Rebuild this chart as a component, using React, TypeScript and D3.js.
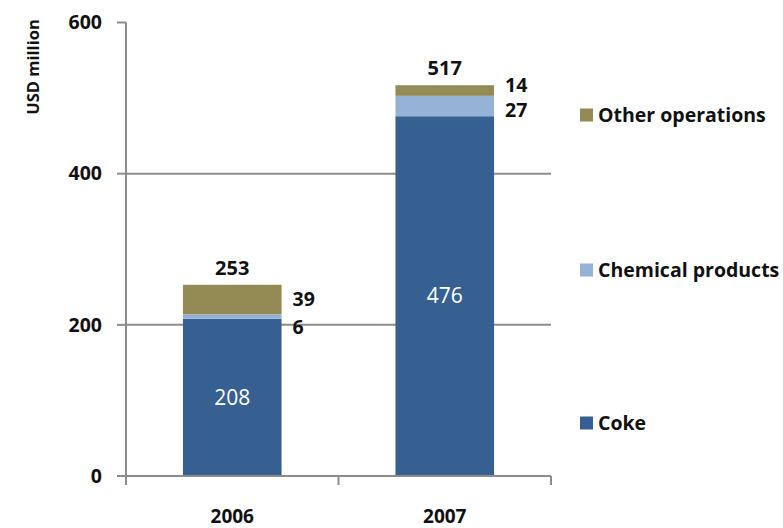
import React from "react";
import * as d3 from "d3";

const categories = ["2006", "2007"];
const seriesNames = ["Coke", "Chemical products", "Other operations"];
const cokeValues = [208, 476];
const chemicalValues = [6, 27];
const otherValues = [39, 14];
const totals = [253, 517];
const yTicks = [0, 200, 400, 600];
const colors = ["#376092", "#95B3D7", "#948A54"];

const W = 783;
const H = 528;
const FONT = "'Open Sans', 'Liberation Sans', sans-serif";

export default function App() {
  const x = d3.scaleBand<string>().domain(categories).range([126, 551]).paddingInner(0.536).paddingOuter(0.268);
  const y = d3.scaleLinear().domain([0, 600]).range([476, 22.5]);
  const seriesValues = [cokeValues, chemicalValues, otherValues];
  const table = categories.map((c, i) => {
    const o: any = { cat: c };
    seriesNames.forEach((s, j) => (o[s] = seriesValues[j][i]));
    return o;
  });
  const stacked = d3.stack<any>().keys(seriesNames)(table);
  const bw = x.bandwidth();
  const grid = "#8c8c8c";

  return (
    <svg width={W} height={H} style={{ position: "absolute", left: 0, top: 0 }} fontFamily={FONT}>
      <rect width={W} height={H} fill="#fff" />
      {/* gridlines */}
      {yTicks.filter((t) => t > 0 && t < 600).map((t) => (
        <line key={t} x1={126} x2={551} y1={y(t)} y2={y(t)} stroke={grid} strokeWidth={2} />
      ))}
      {/* bars */}
      {stacked.map((layer, j) =>
        layer.map((d, i) => (
          <rect key={`${j}-${i}`} x={x(categories[i])} width={bw} y={y(d[1])} height={y(d[0]) - y(d[1])} fill={colors[j]} />
        ))
      )}
      {/* y axis */}
      <line x1={126} x2={126} y1={y(600)} y2={y(0) + 9} stroke={grid} strokeWidth={2} />
      {yTicks.map((t) => (
        <g key={t}>
          <line x1={117} x2={126} y1={y(t)} y2={y(t)} stroke={grid} strokeWidth={2} />
          <text x={102} y={y(t)} dy="0.35em" textAnchor="end" fontSize={19.5} fontWeight="bold" fill="#111">{t}</text>
        </g>
      ))}
      {/* x axis */}
      <line x1={126} x2={551} y1={y(0)} y2={y(0)} stroke={grid} strokeWidth={2} />
      {[126, 338.5, 551].map((px) => (
        <line key={px} x1={px} x2={px} y1={y(0)} y2={y(0) + 9} stroke={grid} strokeWidth={2} />
      ))}
      {categories.map((c) => (
        <text key={c} x={(x(c) as number) + bw / 2} y={516} dy="0.35em" textAnchor="middle" fontSize={19} fontWeight="bold" fill="#111">{c}</text>
      ))}
      {/* y label */}
      <text transform={`translate(33,67) rotate(-90)`} textAnchor="middle" dy="0.35em" fontSize={16.5} fontWeight="bold" fill="#111">USD million</text>
      {/* inner coke labels */}
      {stacked[0].map((d, i) => (
        <text key={i} x={(x(categories[i]) as number) + bw / 2} y={y((d[0] + d[1]) / 2)} dy="0.35em" textAnchor="middle" fontSize={21} fill="#fff">{cokeValues[i]}</text>
      ))}
      {/* totals */}
      {totals.map((t, i) => (
        <text key={i} x={(x(categories[i]) as number) + bw / 2} y={y(t) - 17} dy="0.35em" textAnchor="middle" fontSize={20} fontWeight="bold" fill="#111">{t}</text>
      ))}
      {/* side labels */}
      {categories.map((c, i) => {
        const xr = (x(c) as number) + bw + 11;
        const topY = y(totals[i]);
        const chemY = i === 0 ? y(cokeValues[i] + chemicalValues[i]) + 13 : y(cokeValues[i] + chemicalValues[i] / 2) + 4;
        const otherY = i === 0 ? topY + 14 : topY;
        return (
          <g key={c}>
            <text x={xr} y={otherY} dy="0.35em" fontSize={19.5} fontWeight="bold" fill="#111">{otherValues[i]}</text>
            <text x={xr} y={chemY} dy="0.35em" fontSize={19.5} fontWeight="bold" fill="#111">{chemicalValues[i]}</text>
          </g>
        );
      })}
      {/* legend */}
      {[2, 1, 0].map((j, k) => {
        const ly = [115, 270, 423][k];
        return (
          <g key={j}>
            <rect x={580} y={ly - 6.5} width={13} height={13} fill={colors[j]} />
            <text x={598} y={ly} dy="0.35em" fontSize={19.5} fontWeight="bold" fill="#111">{seriesNames[j]}</text>
          </g>
        );
      })}
    </svg>
  );
}
